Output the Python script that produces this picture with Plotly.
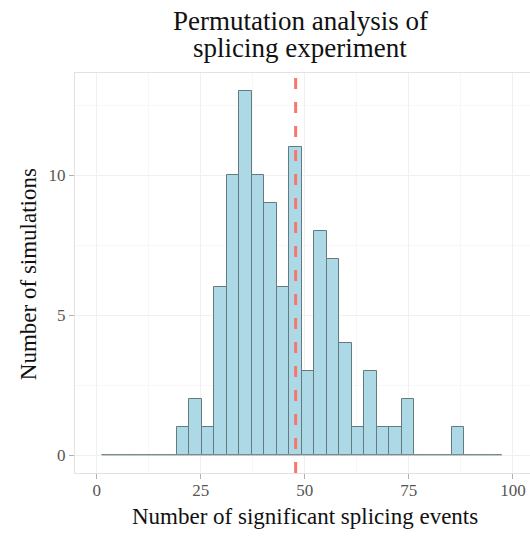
import plotly.graph_objects as go

# Histogram data (bin width 3, starting at 1.3)
bin_start = 1.3
bin_width = 3.0
counts = [0, 0, 0, 0, 0, 0, 1, 2, 1, 6, 10, 13, 10, 9, 6, 11, 3, 8, 7, 4,
          1, 3, 1, 1, 2, 0, 0, 0, 1, 0, 0, 0]
observed = 47.8

x_ticks = [0, 25, 50, 75, 100]
y_ticks = [0, 5, 10]

title_lines = ["Permutation analysis of", "splicing experiment"]
x_title = "Number of significant splicing events"
y_title = "Number of simulations"

edges = [bin_start + i * bin_width for i in range(len(counts) + 1)]
centers = [bin_start + (i + 0.5) * bin_width for i in range(len(counts))]

FONT = "Liberation Serif, Times New Roman, serif"

fig = go.Figure()
fig.add_trace(go.Scatter(
    x=[edges[0], edges[-1]], y=[0, 0], mode="lines",
    line=dict(color="#949ea2", width=1), hoverinfo="skip", showlegend=False))
fig.add_trace(go.Bar(
    x=centers, y=counts, width=bin_width,
    marker=dict(color="#ADD8E6", line=dict(color="#637a80", width=1)),
    showlegend=False))

fig.add_shape(type="line", xref="x", yref="paper", x0=observed, x1=observed,
              y0=0, y1=1, line=dict(color="#F8766D", width=3, dash="11px,13px"))

L, T, B = 75, 72.7, 63
W, H = 530, 536
pw = W - L
ph = H - T - B

for i, (txt, py) in enumerate(zip(title_lines, [21, 48])):
    fig.add_annotation(text=txt, xref="paper", yref="paper",
                       x=(300 - L) / pw, y=(H - B - py) / ph,
                       xanchor="center", yanchor="middle", showarrow=False,
                       font=dict(family=FONT, size=27, color="#111"))

fig.add_annotation(text=x_title, xref="paper", yref="paper",
                   x=(304.5 - L) / pw, y=(H - B - 517) / ph,
                   xanchor="center", yanchor="middle", showarrow=False,
                   font=dict(family=FONT, size=23, color="#111"))
fig.add_annotation(text=y_title, xref="paper", yref="paper",
                   x=(28 - L) / pw, y=(H - B - 274) / ph, textangle=-90,
                   xanchor="center", yanchor="middle", showarrow=False,
                   font=dict(family=FONT, size=23, color="#111"))

fig.update_layout(
    width=W, height=H,
    margin=dict(l=L, r=0, t=T, b=B),
    paper_bgcolor="white", plot_bgcolor="white",
    bargap=0,
    font=dict(family=FONT),
)
fig.update_xaxes(
    range=[-5.2, 104.1], tickvals=x_ticks, ticktext=[str(v) for v in x_ticks],
    showgrid=True, gridcolor="#f0f0f0", gridwidth=1,
    minor=dict(showgrid=True, gridcolor="#f7f7f7", dtick=12.5, tick0=0),
    showline=True, linecolor="#e2e2e2", linewidth=1, mirror=True,
    ticks="outside", ticklen=5, tickcolor="#b0b0b0",
    ticklabelstandoff=-3,
    tickfont=dict(family=FONT, size=17, color="#555"),
    zeroline=False,
)
fig.update_yaxes(
    range=[-0.643, 13.66], tickvals=y_ticks, ticktext=[str(v) for v in y_ticks],
    showgrid=True, gridcolor="#f0f0f0", gridwidth=1,
    minor=dict(showgrid=True, gridcolor="#f7f7f7", dtick=2.5, tick0=0),
    showline=True, linecolor="#e2e2e2", linewidth=1, mirror=True,
    ticks="outside", ticklen=5, tickcolor="#b0b0b0",
    tickfont=dict(family=FONT, size=17, color="#555"),
    zeroline=False,
)

fig.write_html("out.html")
